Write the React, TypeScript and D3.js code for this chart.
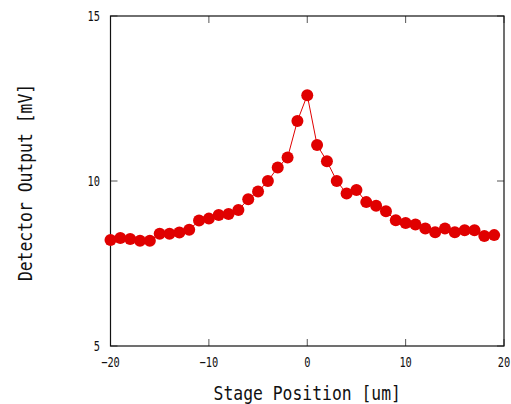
import React from "react";
import * as d3 from "d3";

// Scan of detector output versus stage position
const positions = [
  -20, -19, -18, -17, -16, -15, -14, -13, -12, -11, -10, -9, -8, -7, -6, -5, -4, -3, -2, -1,
  0, 1, 2, 3, 4, 5, 6, 7, 8, 9, 10, 11, 12, 13, 14, 15, 16, 17, 18, 19,
];
const outputs = [
  8.21, 8.27, 8.24, 8.19, 8.19, 8.4, 8.4, 8.44, 8.52, 8.8, 8.86, 8.97, 9.0, 9.12, 9.45, 9.68,
  10.0, 10.41, 10.71, 11.82, 12.6, 11.09, 10.6, 10.0, 9.62, 9.73, 9.36, 9.25, 9.08, 8.81,
  8.73, 8.68, 8.56, 8.45, 8.56, 8.45, 8.51, 8.51, 8.33, 8.36,
];
const xTicks = [-20, -10, 0, 10, 20];
const yTicks = [5, 10, 15];

const W = 511;
const H = 404;
const left = 110.5;
const right = 504;
const top = 16;
const bottom = 346;

export default function App() {
  const x = d3.scaleLinear().domain([-20, 20]).range([left, right]);
  const y = d3.scaleLinear().domain([5, 15]).range([bottom, top]);
  const pts = positions.map((p, i) => [p, outputs[i]] as [number, number]);
  const line = d3
    .line<[number, number]>()
    .x((d) => x(d[0]))
    .y((d) => y(d[1]));
  const tickLen = 7;
  const mono = "'DejaVu Sans Mono', monospace";
  const fmt = (v: number) => (v < 0 ? "\u2212" + Math.abs(v) : String(v));
  // narrow, tall glyphs
  const tickScale = 0.74;
  const titleScale = 0.82;

  return (
    <svg
      width={W}
      height={H}
      style={{ position: "absolute", left: 0, top: 0, background: "#fff" }}
    >
      {/* ticks, mirrored on opposite sides */}
      <g stroke="#555" strokeWidth={1}>
        {xTicks.map((t) => (
          <g key={"xt" + t}>
            <line x1={x(t)} x2={x(t)} y1={bottom} y2={bottom - tickLen} />
            <line x1={x(t)} x2={x(t)} y1={top} y2={top + tickLen} />
          </g>
        ))}
        {yTicks.map((t) => (
          <g key={"yt" + t}>
            <line x1={left} x2={left + tickLen} y1={y(t)} y2={y(t)} />
            <line x1={right} x2={right - tickLen} y1={y(t)} y2={y(t)} />
          </g>
        ))}
      </g>
      <rect
        x={left}
        y={top}
        width={right - left}
        height={bottom - top}
        fill="none"
        stroke="#111"
        strokeWidth={1.2}
      />
      {/* tick labels */}
      <g fontFamily={mono} fontSize={14} fill="#111">
        {xTicks.map((t) => (
          <text
            key={"xl" + t}
            transform={`translate(${x(t)},362) scale(${tickScale},1)`}
            textAnchor="middle"
            dominantBaseline="central"
          >
            {fmt(t)}
          </text>
        ))}
        {yTicks.map((t) => (
          <text
            key={"yl" + t}
            transform={`translate(100,${y(t)}) scale(${tickScale},1)`}
            textAnchor="end"
            dominantBaseline="central"
          >
            {fmt(t)}
          </text>
        ))}
      </g>
      {/* axis titles */}
      <text
        transform={`translate(${(left + right) / 2},393) scale(${titleScale},1)`}
        textAnchor="middle"
        dominantBaseline="central"
        fontFamily={mono}
        fontSize={20}
        fill="#111"
      >
        Stage Position [um]
      </text>
      <text
        transform={`translate(25,182.5) rotate(-90) scale(${titleScale},1)`}
        textAnchor="middle"
        dominantBaseline="central"
        fontFamily={mono}
        fontSize={20}
        fill="#111"
      >
        Detector Output [mV]
      </text>
      {/* data */}
      <path d={line(pts) ?? ""} fill="none" stroke="#e00000" strokeWidth={1} />
      <g fill="#e00000">
        {pts.map((d, i) => (
          <circle key={i} cx={x(d[0])} cy={y(d[1])} r={6} />
        ))}
      </g>
    </svg>
  );
}
